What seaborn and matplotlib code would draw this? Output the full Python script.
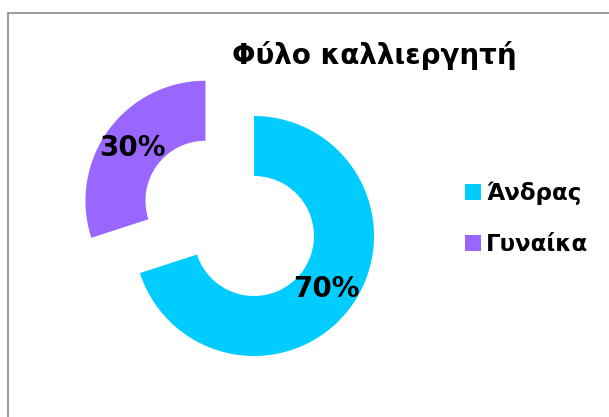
import matplotlib
matplotlib.use("Agg")
import matplotlib.pyplot as plt
from matplotlib.patches import Rectangle
import seaborn as sns

# Farmer gender breakdown
categories = ["Άνδρας", "Γυναίκα"]
shares = [70, 30]
colors = ["#00CCFF", "#9966FF"]
title = "Φύλο καλλιεργητή"

sns.set_theme(style="white")
plt.rcParams["font.family"] = ["DejaVu Sans"]

W, H = 609, 417
fig = plt.figure(figsize=(W / 100, H / 100), dpi=100)
fig.patch.set_facecolor("white")

# Outer chart border (open towards the right and bottom edges)
fig.patches.append(Rectangle((8 / W, -0.1), 1.2, 1.1 - 13 / H,
                             transform=fig.transFigure, fill=False,
                             edgecolor="#8c8c8c", linewidth=1.2))

# Doughnut axes: centre at (254, 236) px, radius 120 px
scale = 120.0
cx, cy = 254, 236
left_px, right_px = cx - 240, cx + 240
top_px, bottom_px = 36, 417
ax = fig.add_axes([left_px / W, 1 - bottom_px / H,
                   (right_px - left_px) / W, (bottom_px - top_px) / H])

wedges, texts, autotexts = ax.pie(
    shares, colors=colors, startangle=90, counterclock=False,
    explode=[0, 0.5], radius=1.0,
    wedgeprops=dict(width=0.5, linewidth=0),
    autopct="%.0f%%", pctdistance=0.75,
    textprops=dict(fontsize=20, fontweight="bold", color="black"))

ax.set_xlim(-(cx - left_px) / scale, (right_px - cx) / scale)
ax.set_ylim(-(bottom_px - cy) / scale, (cy - top_px) / scale)
ax.set_axis_off()

fig.text(374 / W, 1 - 55 / H, title, ha="center", va="center",
         fontsize=20, fontweight="bold", color="black")

fig.legend(wedges, categories, loc="center left",
           bbox_to_anchor=(465 / W, 1 - 218.5 / H),
           frameon=False, prop=dict(family="DejaVu Sans", weight="bold", size=16.5),
           labelcolor="black",
           handlelength=0.7, handleheight=0.7, handletextpad=0.22,
           labelspacing=1.22, borderpad=0, borderaxespad=0)

fig.savefig("out.png", dpi=100, facecolor="white")
